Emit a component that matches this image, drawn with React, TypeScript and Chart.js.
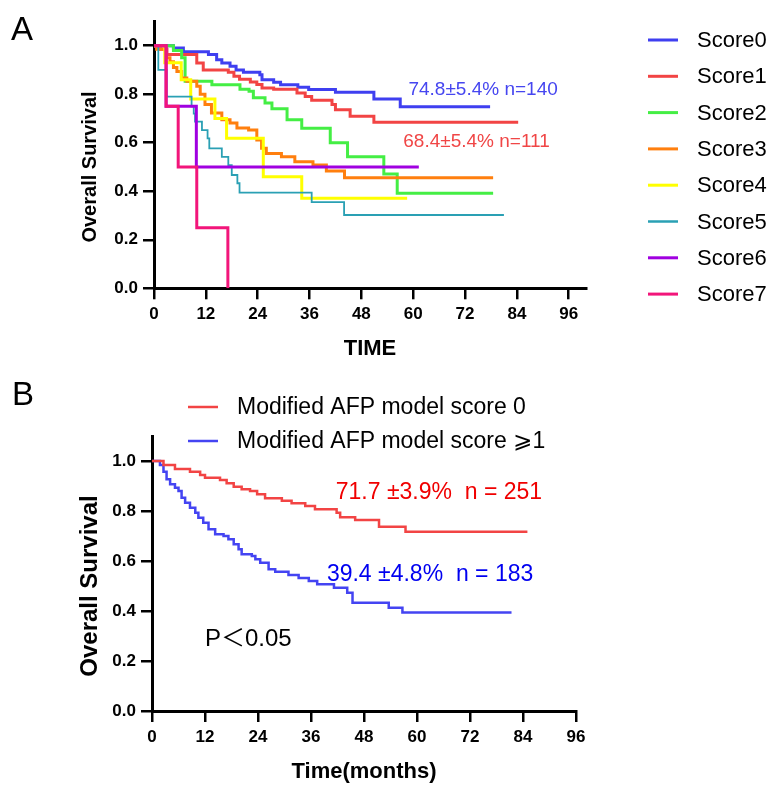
import React, { useEffect, useRef } from "react";
import { Chart, registerables } from "chart.js";
Chart.register(...registerables);

const FONT = "'Liberation Sans', Arial, 'DejaVu Sans', 'Noto Sans CJK SC', sans-serif";

// ---------- Panel A data ----------
const seriesLabelsA = ["Score0", "Score1", "Score2", "Score3", "Score4", "Score5", "Score6", "Score7"];
const seriesColorsA = ["#3f3ff0", "#f24444", "#44ee44", "#ff7f0e", "#ffff00", "#2aa0b4", "#a000e0", "#f2157a"];

const score0Time = [0, 4.5, 6.8, 12.6, 14.5, 15.7, 17.6, 19, 20.7, 24.5, 25, 27.7, 29.3, 33.3, 35.8, 42, 50.9, 57, 77.8];
const score0Surv = [1, 0.99, 0.975, 0.964, 0.942, 0.929, 0.915, 0.9, 0.89, 0.88, 0.86, 0.849, 0.839, 0.829, 0.819, 0.808, 0.78, 0.748, 0.748];

const score1Time = [0, 1.5, 3, 9.9, 11.4, 17.2, 18.5, 19.8, 22.3, 23.8, 25, 27.7, 33.1, 35, 36.5, 41.2, 42, 45.4, 50.9, 84.3];
const score1Surv = [1, 0.985, 0.964, 0.929, 0.9, 0.89, 0.874, 0.862, 0.85, 0.84, 0.826, 0.82, 0.805, 0.79, 0.775, 0.757, 0.736, 0.709, 0.684, 0.684];

const score2Time = [0, 4.5, 6.4, 7.2, 13.4, 19.9, 22, 23, 25.7, 27.3, 30.8, 34.2, 40.8, 44.8, 53.2, 56.3, 78.5];
const score2Surv = [1, 0.98, 0.95, 0.853, 0.839, 0.82, 0.812, 0.785, 0.764, 0.74, 0.695, 0.66, 0.6, 0.542, 0.471, 0.392, 0.392];

const score3Time = [0, 0.6, 2.9, 3.7, 4.5, 5.3, 6.4, 7.6, 9.9, 10.7, 11.8, 13.3, 15.7, 17.6, 19.2, 21.9, 23.8, 24.9, 26, 29.5, 32.6, 36.8, 39.9, 44.1, 78.5];
const score3Surv = [1, 0.985, 0.95, 0.934, 0.91, 0.894, 0.867, 0.853, 0.833, 0.8, 0.757, 0.722, 0.695, 0.681, 0.661, 0.652, 0.611, 0.577, 0.556, 0.542, 0.522, 0.508, 0.483, 0.456, 0.456];

const score4Time = [0, 2.5, 6.3, 8.5, 14.1, 16.8, 25.3, 34.2, 58.6];
const score4Surv = [1, 0.93, 0.86, 0.78, 0.7, 0.618, 0.46, 0.371, 0.371];

const score5Time = [0, 1, 2.9, 8.7, 9.2, 9.5, 11.1, 12.4, 12.8, 15.7, 17.2, 18, 19.3, 19.8, 36.5, 44, 81];
const score5Surv = [1, 0.9, 0.79, 0.75, 0.72, 0.687, 0.652, 0.618, 0.577, 0.542, 0.508, 0.467, 0.433, 0.394, 0.355, 0.302, 0.302];

const score6Time = [0, 2.8, 9.8, 61.3];
const score6Surv = [1, 0.75, 0.5, 0.5];

const score7Time = [0, 2.8, 5.6, 9.9, 17.1];
const score7Surv = [1, 0.75, 0.5, 0.25, 0];

const timesA = [score0Time, score1Time, score2Time, score3Time, score4Time, score5Time, score6Time, score7Time];
const survsA = [score0Surv, score1Surv, score2Surv, score3Surv, score4Surv, score5Surv, score6Surv, score7Surv];
const widthsA = [3, 3, 3, 3, 3, 1.8, 3, 3];

const xTicks = [0, 12, 24, 36, 48, 60, 72, 84, 96];
const yTicks = [0, 0.2, 0.4, 0.6, 0.8, 1.0];

const annotA = [
  { text: "74.8±5.4% n=140", x: 58.9, y: 0.817, color: "#4646f0" },
  { text: "68.4±5.4% n=111", x: 57.7, y: 0.604, color: "#f04646" },
];

// ---------- Panel B data ----------
const groupLabelsB = ["Modified AFP model score 0", "Modified AFP model score ⩾1"];
const groupColorsB = ["#f24444", "#4444f2"];

const afp0Time = [0, 2.6, 5.2, 8.6, 10.9, 12, 15.4, 16.9, 18.5, 20.3, 22.2, 23.8, 25.6, 29.4, 31.6, 34.7, 36.9, 41.8, 42.6, 46, 51.4, 57.4, 85];
const afp0Surv = [1, 0.984, 0.968, 0.957, 0.944, 0.933, 0.924, 0.911, 0.897, 0.887, 0.88, 0.867, 0.851, 0.841, 0.831, 0.82, 0.807, 0.793, 0.775, 0.764, 0.737, 0.717, 0.717];

const afp1Time = [0, 1.8, 2.6, 3.3, 4.1, 5.2, 6, 6.7, 7.5, 8.6, 9.8, 10.5, 11.6, 12.8, 14.3, 16.2, 17.3, 18.5, 19.6, 20.3, 22.6, 23.4, 24.5, 26.4, 27.9, 30.9, 33.2, 35.5, 37.4, 41.2, 44.2, 45.4, 53.6, 56.7, 81.4];
const afp1Surv = [1, 0.984, 0.957, 0.927, 0.907, 0.893, 0.88, 0.853, 0.833, 0.813, 0.793, 0.773, 0.753, 0.727, 0.707, 0.7, 0.687, 0.667, 0.647, 0.627, 0.62, 0.607, 0.593, 0.567, 0.557, 0.544, 0.532, 0.52, 0.507, 0.493, 0.473, 0.433, 0.413, 0.394, 0.394];

const timesB = [afp0Time, afp1Time];
const survsB = [afp0Surv, afp1Surv];

const annotB = [
  { text: "71.7 ±3.9%  n = 251", x: 41.6, y: 0.872, color: "#f00000", size: 23 },
  { text: "39.4 ±4.8%  n = 183", x: 39.6, y: 0.544, color: "#0000f0", size: 23 },
  { text: "P＜0.05", x: 12, y: 0.288, color: "#000000", size: 24 },
];

// ---------- helpers ----------
const toPoints = (t: number[], s: number[]) => t.map((v, i) => ({ x: v, y: s[i] }));

function axisOptions(opts: {
  min: number; max: number; ticks: number[]; fit: (s: any) => void; fmt: (v: number) => string;
  tickSize: number; pad: number; title?: any;
}) {
  return {
    type: "linear" as const,
    min: opts.min,
    max: opts.max,
    afterBuildTicks: (s: any) => { s.ticks = opts.ticks.map((v) => ({ value: v })); },
    afterFit: opts.fit,
    ticks: {
      autoSkip: false,
      maxRotation: 0,
      color: "#000",
      padding: opts.pad,
      font: { family: FONT, size: opts.tickSize, weight: "bold" as const },
      callback: (v: any) => opts.fmt(Number(v)),
    },
    grid: { drawOnChartArea: false, drawTicks: true, tickLength: 11, lineWidth: 2.5, color: "#000" },
    border: { display: true, width: 3, color: "#000" },
    title: opts.title || { display: false },
  };
}

function drawText(ctx: CanvasRenderingContext2D, text: string, x: number, y: number, font: string, color: string, align: CanvasTextAlign = "left") {
  ctx.save();
  ctx.font = font;
  ctx.fillStyle = color;
  ctx.textAlign = align;
  ctx.textBaseline = "middle";
  ctx.fillText(text, x, y);
  ctx.restore();
}

function drawYTitle(ctx: CanvasRenderingContext2D, text: string, x: number, y: number, size: number) {
  ctx.save();
  ctx.translate(x, y);
  ctx.rotate(-Math.PI / 2);
  ctx.font = `bold ${size}px ${FONT}`;
  ctx.fillStyle = "#000";
  ctx.textAlign = "center";
  ctx.textBaseline = "middle";
  ctx.fillText(text, 0, 0);
  ctx.restore();
}

const H_A = 372;
const H_B = 414;

const panelAPlugin = {
  id: "panelADecor",
  afterDraw(chart: any) {
    const ctx = chart.ctx as CanvasRenderingContext2D;
    const xs = chart.scales.x;
    const ys = chart.scales.y;
    drawText(ctx, "A", 11, 31, `33px ${FONT}`, "#000");
    drawYTitle(ctx, "Overall Survival", 90, ys.getPixelForValue(0.5), 20);
    annotA.forEach((a) => drawText(ctx, a.text, xs.getPixelForValue(a.x), ys.getPixelForValue(a.y), `19px ${FONT}`, a.color));
    // legend
    seriesLabelsA.forEach((lab, i) => {
      const y = 40 + i * 36.3;
      ctx.save();
      ctx.strokeStyle = seriesColorsA[i];
      ctx.lineWidth = i === 5 ? 2.5 : 3;
      ctx.beginPath();
      ctx.moveTo(648, y);
      ctx.lineTo(678, y);
      ctx.stroke();
      ctx.restore();
      drawText(ctx, lab, 697, y + 1, `22px ${FONT}`, "#000");
    });
  },
};

const panelBPlugin = {
  id: "panelBDecor",
  afterDraw(chart: any) {
    const ctx = chart.ctx as CanvasRenderingContext2D;
    const xs = chart.scales.x;
    const ys = chart.scales.y;
    drawText(ctx, "B", 12, 24, `33px ${FONT}`, "#000");
    drawYTitle(ctx, "Overall Survival", 90, ys.getPixelForValue(0.5), 24);
    annotB.forEach((a) => drawText(ctx, a.text, xs.getPixelForValue(a.x), ys.getPixelForValue(a.y), `${a.size}px ${FONT}`, a.color));
    groupLabelsB.forEach((lab, i) => {
      const y = 35 + i * 34;
      ctx.save();
      ctx.strokeStyle = groupColorsB[i];
      ctx.lineWidth = 2.5;
      ctx.beginPath();
      ctx.moveTo(188, y);
      ctx.lineTo(218, y);
      ctx.stroke();
      ctx.restore();
      drawText(ctx, lab, 237, y + 1, `23px ${FONT}`, "#000");
    });
  },
};

export default function App() {
  const refA = useRef<HTMLCanvasElement>(null);
  const refB = useRef<HTMLCanvasElement>(null);

  useEffect(() => {
    if (!refA.current || !refB.current) return;

    const chartA = new Chart(refA.current, {
      type: "line",
      data: {
        datasets: seriesLabelsA.map((lab, i) => ({
          label: lab,
          data: toPoints(timesA[i], survsA[i]),
          borderColor: seriesColorsA[i],
          backgroundColor: seriesColorsA[i],
          borderWidth: widthsA[i],
          stepped: true,
          pointRadius: 0,
          fill: false,
          borderJoinStyle: "miter" as const,
          borderCapStyle: "butt" as const,
          order: 8 - i,
        })),
      },
      options: {
        responsive: false,
        animation: false,
        events: [],
        layout: { padding: { left: 0, top: 21.4, right: 186, bottom: 0 } },
        plugins: { legend: { display: false }, tooltip: { enabled: false } },
        scales: {
          x: axisOptions({
            min: 0, max: 100, ticks: xTicks, tickSize: 17, pad: 5,
            fit: (s: any) => { s.height = H_A - 288.3; },
            fmt: (v) => String(v),
            title: { display: true, text: "TIME", color: "#000", font: { family: FONT, size: 22, weight: "bold" }, padding: { top: 0, bottom: 10 } },
          }),
          y: axisOptions({
            min: 0, max: 1.1, ticks: yTicks, tickSize: 17, pad: 5,
            fit: (s: any) => { s.width = 154; },
            fmt: (v) => v.toFixed(1),
          }),
        },
      },
      plugins: [panelAPlugin],
    } as any);

    const chartB = new Chart(refB.current, {
      type: "line",
      data: {
        datasets: groupLabelsB.map((lab, i) => ({
          label: lab,
          data: toPoints(timesB[i], survsB[i]),
          borderColor: groupColorsB[i],
          backgroundColor: groupColorsB[i],
          borderWidth: 2.5,
          stepped: true,
          pointRadius: 0,
          fill: false,
          borderJoinStyle: "miter" as const,
          borderCapStyle: "butt" as const,
        })),
      },
      options: {
        responsive: false,
        animation: false,
        events: [],
        layout: { padding: { left: 0, top: 64, right: 196, bottom: 0 } },
        plugins: { legend: { display: false }, tooltip: { enabled: false } },
        scales: {
          x: axisOptions({
            min: 0, max: 96, ticks: xTicks, tickSize: 17, pad: 5,
            fit: (s: any) => { s.height = H_B - 339; },
            fmt: (v) => String(v),
            title: { display: true, text: "Time(months)", color: "#000", font: { family: FONT, size: 22, weight: "bold" }, padding: { top: 0, bottom: 1 } },
          }),
          y: axisOptions({
            min: 0, max: 1.1, ticks: yTicks, tickSize: 17, pad: 5,
            fit: (s: any) => { s.width = 152; },
            fmt: (v) => v.toFixed(1),
          }),
        },
      },
      plugins: [panelBPlugin],
    } as any);

    return () => {
      chartA.destroy();
      chartB.destroy();
    };
  }, []);

  return (
    <div style={{ position: "absolute", left: 0, top: 0, width: 772, height: 786, background: "#fff" }}>
      <canvas ref={refA} width={772} height={H_A} style={{ position: "absolute", left: 0, top: 0, display: "block" }} />
      <canvas ref={refB} width={772} height={H_B} style={{ position: "absolute", left: 0, top: H_A, display: "block" }} />
    </div>
  );
}
